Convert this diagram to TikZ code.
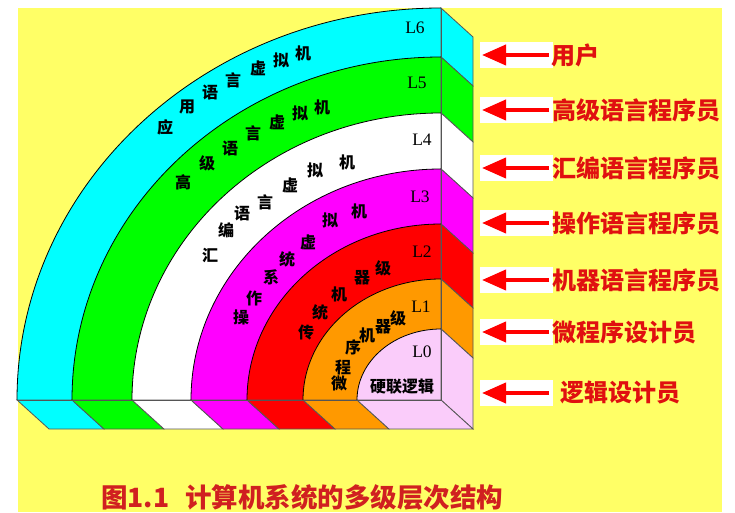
\documentclass[tikz,border=0pt]{standalone}
\usepackage{fontspec}
\setmainfont{Liberation Serif}
\newfontfamily\cjk{Noto Sans CJK SC}
\usetikzlibrary{arrows.meta}
\definecolor{bgyellow}{HTML}{FFFF66}
\definecolor{cyanb}{HTML}{00FFFF}
\definecolor{greenb}{HTML}{00FF00}
\definecolor{magb}{HTML}{FF00FF}
\definecolor{redb}{HTML}{FF0000}
\definecolor{orangeb}{HTML}{FF9900}
\definecolor{pinkb}{HTML}{FACCFA}
\definecolor{lblred}{HTML}{E01010}
\definecolor{caprd}{HTML}{D02020}
\definecolor{edgegray}{HTML}{555555}
\begin{document}
\begin{tikzpicture}[x=1pt,y=1pt,
  arcline/.style={draw=black,line width=0.8pt},
  faceline/.style={draw=edgegray,line width=0.8pt},
  arctext/.style={font=\cjk\bfseries\fontsize{16}{16}\selectfont,inner sep=0pt},
  lvl/.style={font=\fontsize{17.5}{17.5}\selectfont,inner sep=0pt},
  wbox/.style={fill=white,minimum width=73pt,minimum height=26pt,inner sep=0pt},
  redarrow/.style={draw=redb,line width=4pt,-{Triangle[length=24pt,width=20pt]}},
  lbl/.style={font=\cjk\bfseries\fontsize{24}{24}\selectfont,text=lblred,inner sep=0pt,anchor=west},
  captext/.style={font=\cjk\bfseries\fontsize{26.5}{26.5}\selectfont,text=caprd,inner sep=0pt,anchor=west}
]
\useasboundingbox (0,0) rectangle (735,512);
\fill[bgyellow] (18,0) rectangle (722,504);
% front face bands
\foreach \rx/\ry/\c in {424/392/cyanb,369/343/greenb,309/287/white,250/231/magb,194/176/redb,138/121/orangeb,84/71/pinkb}{
  \fill[\c] (441,112) -- (441,112+\ry) arc[start angle=90,end angle=180,x radius=\rx pt,y radius=\ry pt] -- cycle;
}
% side faces (right) and bottom faces
\foreach \ro/\yo/\ri/\yi/\c in {424/392/369/343/cyanb,369/343/309/287/greenb,309/287/250/231/white,250/231/194/176/magb,194/176/138/121/redb,138/121/84/71/orangeb,84/71/0/0/pinkb}{
  \filldraw[fill=\c,faceline] (441,112+\yo) -- ++(32,-29) -- (473,83+\yi) -- (441,112+\yi) -- cycle;
  \filldraw[fill=\c,faceline] (441-\ro,112) -- (441-\ri,112) -- ++(32,-29) -- (473-\ro,83) -- cycle;
}
% arc boundaries
\foreach \rx/\ry in {424/392,369/343,309/287,250/231,194/176,138/121,84/71}{
  \draw[arcline] (441,112+\ry) arc[start angle=90,end angle=180,x radius=\rx pt,y radius=\ry pt];
}
\draw[faceline] (441,112) -- (441,504);
\draw[faceline] (17,112) -- (441,112);
% level labels
\node[lvl] (L6) at (415,484) {L6};
\node[lvl] (L5) at (417,429) {L5};
\node[lvl] (L4) at (422,372) {L4};
\node[lvl] (L3) at (420,315) {L3};
\node[lvl] (L2) at (422,260) {L2};
\node[lvl] (L1) at (421,205) {L1};
\node[lvl] (L0) at (422,160) {L0};
% arc texts
\foreach \ch/\x/\y [count=\i] in {应/165/385,用/187/405,语/210/420,言/233/432,虚/258/444,拟/281/452,机/303/459}
  \node[arctext] (cy\i) at (\x,\y) {\ch};
\foreach \ch/\x/\y [count=\i] in {高/183/330,级/207/349,语/230/364,言/253/379,虚/277/390,拟/300/399,机/322/405}
  \node[arctext] (gr\i) at (\x,\y) {\ch};
\foreach \ch/\x/\y [count=\i] in {汇/210/257,编/226/282,语/242/299,言/265/310,虚/290/327,拟/315/342,机/347/350}
  \node[arctext] (wh\i) at (\x,\y) {\ch};
\foreach \ch/\x/\y [count=\i] in {操/241/195,作/254/214,系/271/235,统/287/253,虚/308/270,拟/330/292,机/359/301}
  \node[arctext] (mg\i) at (\x,\y) {\ch};
\foreach \ch/\x/\y [count=\i] in {传/306/180,统/320/200,机/339/218,器/362/234,级/383/244}
  \node[arctext] (rd\i) at (\x,\y) {\ch};
\foreach \ch/\x/\y [count=\i] in {微/339/129,程/343/145,序/353/165,机/367/177,器/383/185,级/398/194}
  \node[arctext] (or\i) at (\x,\y) {\ch};
\node[arctext] (pk) at (402,125) {硬联逻辑};
% right side arrows and labels
\foreach \y/\t/\tx [count=\i] in {457/用户/551,402/高级语言程序员/552,344/汇编语言程序员/552,289/操作语言程序员/552,232/机器语言程序员/552,180/微程序设计员/552,119/逻辑设计员/560}{
  \node[wbox] (wb\i) at (516.5,\y) {};
  \coordinate (as\i) at (549,\y);
  \coordinate (ae\i) at (482,\y);
  \draw[redarrow] (as\i) -- (ae\i);
  \node[lbl] (lb\i) at (\tx,\y) {\t};
}
% caption
\node[captext] (cap) at (101,15) {图1.1\hspace{0.6em}计算机系统的多级层次结构};
\end{tikzpicture}
\end{document}
